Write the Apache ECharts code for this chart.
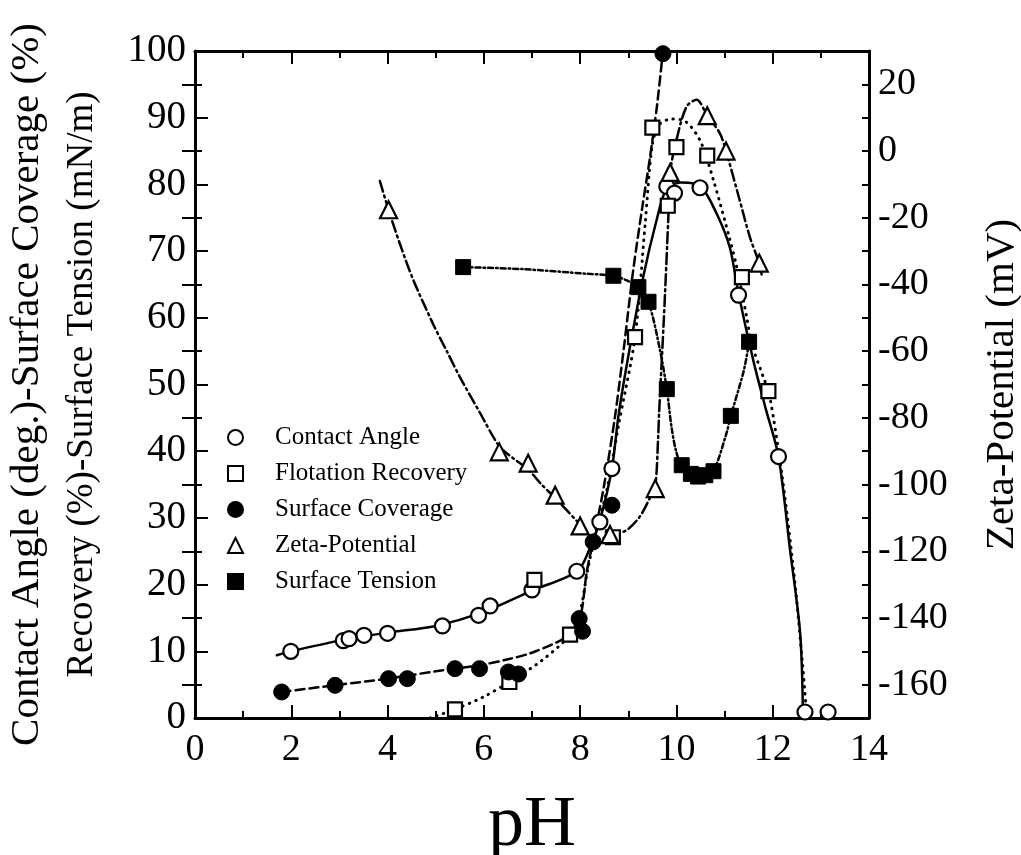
<!DOCTYPE html>
<html>
<head>
<meta charset="utf-8">
<script src="https://cdn.jsdelivr.net/npm/echarts@6/dist/echarts.min.js"></script>
<style>html,body{margin:0;padding:0;background:#fff}#chart{width:1021px;height:855px}</style>
</head>
<body>
<div id="chart"></div>
<script>
// measured points [pH, value]
var contactAngle = [[1.99,10.0],[3.08,11.6],[3.2,11.9],[3.51,12.4],[4.0,12.7],[5.14,13.8],[5.89,15.4],[6.13,16.8],[7.0,19.2],[7.93,22.0],[8.41,29.4],[8.66,37.4],[9.8,79.7],[9.96,78.7],[10.49,79.5],[11.29,63.4],[12.12,39.2],[12.67,0.9],[13.15,0.9]];
var flotation = [[5.4,1.3],[6.53,5.4],[7.05,20.7],[7.79,12.5],[8.68,27.1],[9.14,57.1],[9.5,88.5],[9.82,76.8],[10.0,85.6],[10.64,84.3],[11.36,66.1],[11.91,49.0]];
var coverage = [[1.8,3.9],[2.91,4.9],[4.02,5.9],[4.41,5.9],[5.4,7.4],[5.91,7.4],[6.51,6.9],[6.72,6.6],[7.98,14.9],[8.05,13.0],[8.27,26.4],[8.66,31.9],[9.72,99.6]];
var zeta = [[4.02,-17.6],[6.32,-90.2],[6.92,-93.6],[7.48,-103.2],[8.0,-112.4],[8.62,-115],[9.56,-101.2],[9.87,-6.4],[10.64,10.6],[11.03,0],[11.72,-33.6]];
var tension = [[5.57,67.6],[8.69,66.3],[9.21,64.6],[9.42,62.4],[9.8,49.3],[10.11,37.9],[10.3,36.6],[10.45,36.2],[10.6,36.4],[10.77,37.0],[11.13,45.3],[11.51,56.4]];

// fitted curves
var contactCurve = [[1.7,9.4],[2.0,10.0],[3.0,11.6],[4.0,12.8],[5.0,13.8],[6.0,15.9],[7.0,19.1],[7.94,22.0],[8.2,25.4],[8.41,29.6],[8.66,37.4],[8.79,45.0],[8.97,53.0],[9.31,66.1],[9.59,74.7],[9.8,79.4],[10.1,80.3],[10.49,79.8],[10.83,75.7],[11.11,70.5],[11.29,63.6],[11.6,53.5],[11.85,46.5],[12.12,39.2],[12.36,25.2],[12.57,12.7],[12.63,0]];
var flotationCurve = [[4.88,0],[5.4,1.3],[6.0,3.2],[6.53,5.4],[7.2,8.6],[7.79,12.5],[8.0,16],[8.15,22],[8.3,27],[8.55,34],[8.8,44],[9.14,57.1],[9.35,74],[9.5,86],[9.65,89],[9.9,89.8],[10.15,89.6],[10.49,86.6],[10.77,80.6],[11.1,72],[11.25,67.7],[11.46,60.1],[11.56,56.2],[11.8,51.2],[11.93,48.5],[12.2,36],[12.45,21],[12.62,8],[12.7,0.9]];
var coverageCurve = [[1.8,3.9],[3.0,5.0],[4.0,5.9],[5.0,7.0],[5.9,7.9],[6.5,8.8],[6.96,9.7],[7.5,11.3],[7.79,12.6],[8.0,15],[8.14,22],[8.3,27.5],[8.5,35],[8.72,45],[8.9,55],[9.1,67],[9.3,77],[9.45,84],[9.6,92],[9.72,100]];
var zetaCurve = [[3.84,-9],[4.02,-17.6],[4.26,-28],[4.53,-38.5],[4.95,-52],[5.23,-60],[5.5,-67.7],[5.9,-78],[6.32,-88.5],[6.6,-92],[6.92,-95.5],[7.2,-100],[7.48,-104],[8.0,-112],[8.3,-116.5],[8.62,-115.5],[8.97,-113.6],[9.24,-109.6],[9.45,-104],[9.56,-100.5],[9.62,-86],[9.64,-78.6],[9.74,-50],[9.83,-20.6],[9.87,-6.4],[10.0,3.3],[10.21,13.3],[10.42,15.4],[10.64,10.6],[10.9,5.4],[11.03,0],[11.3,-14],[11.53,-26],[11.72,-33.6],[11.77,-37]];
var tensionCurve = [[5.57,67.6],[6.8,67.3],[8.14,66.6],[8.69,66.3],[8.97,65.6],[9.21,64.6],[9.42,62.4],[9.66,55.1],[9.8,49.3],[9.9,43.5],[10.0,39.8],[10.11,37.9],[10.3,36.6],[10.45,36.2],[10.6,36.4],[10.77,37.0],[11.04,42.7],[11.13,45.3],[11.4,52.1],[11.51,56.4]];

var zetaMajor = [-160,-140,-120,-100,-80,-60,-40,-20,0,20];

var FONT = 'Liberation Serif';
var BLACK = '#000';
var chart = echarts.init(document.getElementById('chart'));

function axisLine(){ return {show:true, onZero:false, lineStyle:{color:BLACK, width:3}}; }
function tick(len){ return {show:true, inside:true, length:len, lineStyle:{color:BLACK, width:2}}; }
function minor(){ return {show:true, splitNumber:2, length:7, lineStyle:{color:BLACK, width:2}}; }
function curve(name, data, yIdx, type, width){
    return {type:'line', name:name, data:data, yAxisIndex:yIdx, symbol:'none', showSymbol:false,
        smooth:0.3, silent:true, z:2,
        lineStyle:{color:BLACK, width:width, type:type, cap:'round'}};
}
function marks(name, data, yIdx, symbol, size, filled){
    return {type:'scatter', name:name, data:data, yAxisIndex:yIdx, symbol:symbol, symbolSize:size, z:3,
        itemStyle: filled ? {color:BLACK, borderColor:BLACK, borderWidth:1, opacity:1}
                          : {color:'#fff', borderColor:BLACK, borderWidth:2.2, opacity:1}};
}

var option = {
    backgroundColor:'#fff',
    animation:false,
    grid:{left:195, top:51, right:152, bottom:137, containLabel:false, outerBoundsMode:'none'},
    legend:{
        orient:'vertical', left:222, top:420, itemWidth:15, itemHeight:15, itemGap:11,
        data:['Contact Angle','Flotation Recovery','Surface Coverage','Zeta-Potential','Surface Tension'],
        textStyle:{fontFamily:FONT, fontSize:25, color:BLACK, padding:[0,0,0,27]}
    },
    xAxis:[
        {type:'value', position:'bottom', min:0, max:14, interval:2,
            axisLine:axisLine(), axisTick:tick(13), minorTick:minor(),
            splitLine:{show:false}, minorSplitLine:{show:false},
            axisLabel:{fontFamily:FONT, fontSize:38, color:BLACK, margin:13},
            name:'pH', nameLocation:'middle', nameGap:72,
            nameTextStyle:{fontFamily:FONT, fontSize:72, color:BLACK}},
        {type:'value', position:'top', min:0, max:14, interval:2,
            axisLine:axisLine(), axisTick:tick(13), minorTick:minor(),
            splitLine:{show:false}, axisLabel:{show:false}}
    ],
    yAxis:[
        {type:'value', position:'left', min:0, max:100, interval:10,
            axisLine:axisLine(), axisTick:tick(13), minorTick:minor(),
            splitLine:{show:false}, minorSplitLine:{show:false},
            axisLabel:{fontFamily:FONT, fontSize:39, color:BLACK, margin:9},
            name:'{a|Contact Angle (deg.)-Surface Coverage (%)}\n{b|Recovery (%)-Surface Tension (mN/m)}',
            nameLocation:'middle', nameRotate:90, nameGap:85,
            nameTextStyle:{fontFamily:FONT, color:BLACK,
                rich:{a:{fontFamily:FONT, fontSize:41, lineHeight:55, color:BLACK},
                      b:{fontFamily:FONT, fontSize:37, lineHeight:55, color:BLACK}}}},
        {type:'value', position:'right', min:-170, max:30, interval:10,
            axisLine:axisLine(), axisTick:tick(7),
            splitLine:{show:false},
            axisLabel:{fontFamily:FONT, fontSize:38, color:BLACK, margin:9,
                formatter:function(v){ return v % 20 === 0 ? String(v) : ''; }},
            name:'Zeta-Potential (mV)', nameLocation:'middle', nameRotate:90, nameGap:113,
            nameTextStyle:{fontFamily:FONT, fontSize:41, color:BLACK}},
        {type:'value', position:'right', min:-170, max:30,
            axisLine:{show:false},
            axisTick:{show:true, inside:true, length:13, customValues:zetaMajor, lineStyle:{color:BLACK, width:2}},
            axisLabel:{show:false}, splitLine:{show:false}}
    ],
    series:[
        curve('ca-fit', contactCurve, 0, 'solid', 2.5),
        curve('fr-fit', flotationCurve, 0, [0.5,6.5], 3),
        curve('sc-fit', coverageCurve, 0, [9,5], 2.5),
        curve('zp-fit', zetaCurve, 1, [11,4,2,4], 2.5),
        curve('st-fit', tensionCurve, 0, [5,3,1.5,3], 2.5),
        marks('Contact Angle', contactAngle, 0, 'circle', 15, false),
        marks('Flotation Recovery', flotation, 0, 'rect', 14, false),
        marks('Surface Coverage', coverage, 0, 'circle', 16, true),
        marks('Zeta-Potential', zeta, 1, 'triangle', 17, false),
        marks('Surface Tension', tension, 0, 'rect', 15, true)
    ]
};
chart.setOption(option);
</script>
</body>
</html>
